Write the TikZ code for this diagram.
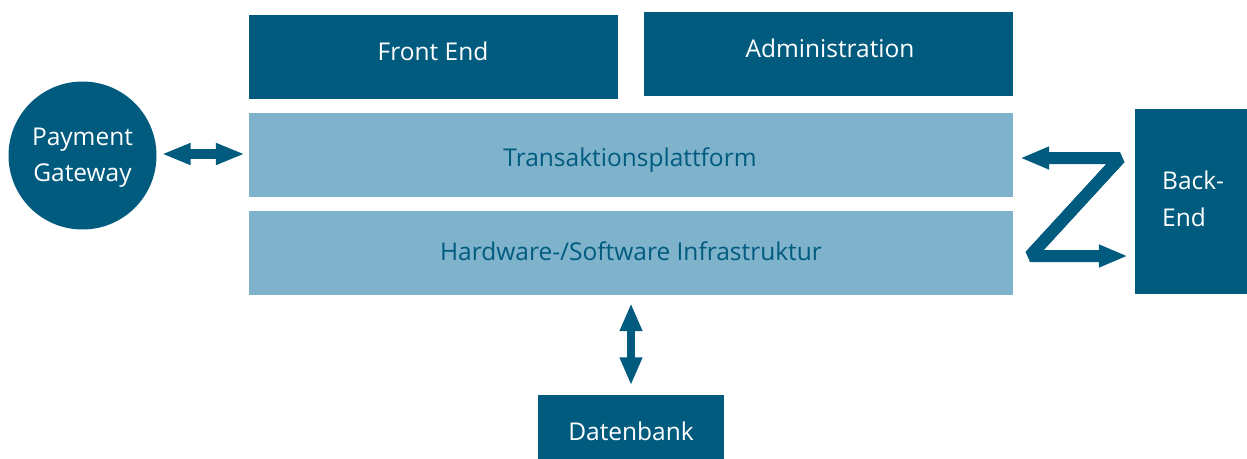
\documentclass[tikz,border=0pt]{standalone}
\usepackage{fontspec}
\setmainfont{Open Sans}
\usetikzlibrary{arrows.meta}
\definecolor{dark}{RGB}{0,91,127}
\definecolor{light}{RGB}{127,179,204}
\tikzset{
  darkbox/.style={fill=dark, inner sep=0pt},
  lightbox/.style={fill=light, inner sep=0pt},
  wtxt/.style={text=white, inner sep=0pt, anchor=base, font=\fontsize{24.5}{36}\selectfont},
  dtxt/.style={text=dark, inner sep=0pt, anchor=base, font=\fontsize{24.5}{36}\selectfont},
}
\begin{document}
\begin{tikzpicture}[x=1pt,y=-1pt]
\useasboundingbox (0,0) rectangle (1247,458);
\node[darkbox, minimum width=369pt, minimum height=84pt] (fe) at (433.5,57) {};
\node[darkbox, minimum width=369pt, minimum height=84pt] (adm) at (828.5,54) {};
\node[lightbox, minimum width=764pt, minimum height=84pt] (tp) at (631,154.5) {};
\node[lightbox, minimum width=764pt, minimum height=84pt] (hw) at (631,253) {};
\node[darkbox, minimum width=112pt, minimum height=185pt] (be) at (1191,201.5) {};
\node[darkbox, circle, minimum size=148pt] (pg) at (82.5,155.5) {};
\node[darkbox, minimum width=186pt, minimum height=64pt] (db) at (631,426.5) {};
% texts
\node[wtxt] (tfe) at (433,60) {Front End};
\node[wtxt] (tadm) at (830,57) {Administration};
\node[dtxt] (ttp) at (630,166) {Transaktionsplattform};
\node[dtxt] (thw) at (631,260) {Hardware-/Software Infrastruktur};
\node[wtxt, anchor=base west] (tbe1) at (1162,189.3) {Back-};
\node[wtxt, anchor=base west] (tbe2) at (1162,226.7) {End};
\node[wtxt] (tpg1) at (82.5,145) {Payment};
\node[wtxt] (tpg2) at (82.5,181.7) {Gateway};
\node[wtxt] (tdb) at (631,440) {Datenbank};
% left arrow
\draw[draw=dark, line width=10pt,
    {Triangle[length=29pt,width=20pt]}-{Triangle[length=29pt,width=20pt]}, shorten <=5pt, shorten >=4pt]
    (pg.east |- 0,154) -- (tp.west |- 0,154);
% bottom arrow
\draw[draw=dark, line width=8pt,
    {Triangle[length=28pt,width=21pt]}-{Triangle[length=28pt,width=21pt]}, shorten <=8pt, shorten >=9pt]
    (hw.south -| 631,0) -- (db.north -| 631,0);
% Z arrow
\coordinate (ztr) at (1120,158);
\coordinate (zbl) at (1030,256);
\draw[draw=dark, line width=12pt, line join=bevel, -{Triangle[length=29pt,width=21pt]}, shorten >=7pt]
    (ztr) -- (zbl) -- (zbl -| be.west);
\draw[draw=dark, line width=12pt, line join=bevel, -{Triangle[length=29pt,width=21pt]}, shorten >=7pt]
    (zbl) -- (ztr) -- (ztr -| tp.east);
\end{tikzpicture}
\end{document}
